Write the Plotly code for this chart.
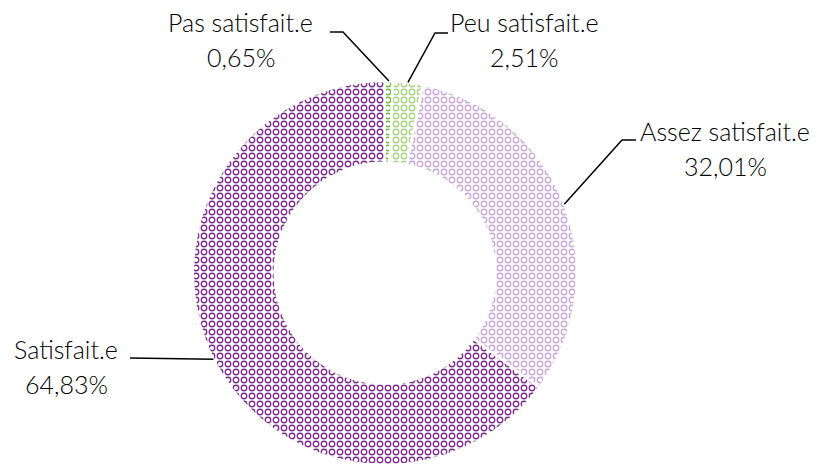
import math
import plotly.graph_objects as go

# ------------------------------ DONNÉES ------------------------------ #
categories = ["Pas satisfait.e", "Peu satisfait.e", "Assez satisfait.e", "Satisfait.e"]
valeurs = [0.65, 2.51, 32.01, 64.83]
etiquettes_valeurs = ["0,65%", "2,51%", "32,01%", "64,83%"]
couleurs = ["#6dbe3c", "#a8d47c", "#cba6d8", "#7a2a8a"]

# ------------------------------ MISE EN PAGE ------------------------------ #
OX, OY = 8, 8  # marge par défaut du <body> de la page html
W, H = 817 - OX, 468 - OY  # taille de la figure (sans débordement de la fenêtre)
CX, CY, R = 385 - OX, 273 - OY, 192  # centre et rayon du donut (px, repère figure)
TROU = 0.575

# coude des lignes de rappel, puis fin horizontale (px, repère de la page)
coudes = [(343, 32), (435, 33), (622, 140), (130, 358)]
fins = [(330, 32), (448, 33), (636, 140), (130, 358)]
# position du texte : (x centre, y ligne 1, y ligne 2)
pos_textes = [(241, 22, 57), (524, 22, 57), (725, 131, 166), (66, 349, 384)]

POLICE = "Lato, 'Noto Sans', sans-serif"


def px(x, y):
    # coordonnées page -> coordonnées papier de la figure
    return (x - OX) / W, 1 - (y - OY) / H


fig = go.Figure()
domaine = dict(x=[(CX - R) / W, (CX + R) / W], y=[1 - (CY + R) / H, 1 - (CY - R) / H])

# ronds pleins colorés, puis ronds blancs plus petits par-dessus -> cercles creux
fig.add_trace(go.Pie(
    labels=categories,
    values=valeurs,
    sort=False,
    direction="clockwise",
    rotation=0,
    hole=TROU,
    textinfo="none",
    hoverinfo="label+percent",
    marker=dict(
        colors=["white"] * 4,
        line=dict(color="white", width=2),
        pattern=dict(shape=".", fgcolor=couleurs, bgcolor="white",
                     size=8, solidity=0.57, fillmode="replace"),
    ),
    domain=domaine,
    showlegend=False,
))

fig.add_trace(go.Pie(
    labels=categories,
    values=valeurs,
    sort=False,
    direction="clockwise",
    rotation=0,
    hole=TROU,
    textinfo="none",
    hoverinfo="skip",
    marker=dict(
        colors=["rgba(0,0,0,0)"] * 4,
        line=dict(color="white", width=2),
        pattern=dict(shape=".", fgcolor="white", bgcolor="rgba(0,0,0,0)",
                     size=8, solidity=0.22, fillmode="replace"),
    ),
    domain=domaine,
    showlegend=False,
))

# lignes de rappel : point au milieu de chaque part sur le bord extérieur
total = sum(valeurs)
cumul = 0
for i, v in enumerate(valeurs):
    angle = 2 * math.pi * (cumul + v / 2) / total
    cumul += v
    bx = CX + OX + R * math.sin(angle)
    by = CY + OY - R * math.cos(angle)
    pts = [(bx, by), coudes[i], fins[i]]
    chemin = "M " + " L ".join(f"{px(x, y)[0]:.5f},{px(x, y)[1]:.5f}" for x, y in pts)
    fig.add_shape(type="path", path=chemin, xref="paper", yref="paper",
                  line=dict(color="black", width=1.5))

    tx, ty1, ty2 = pos_textes[i]
    for texte, ty in [(categories[i], ty1), (etiquettes_valeurs[i], ty2)]:
        ax, ay = px(tx, ty)
        fig.add_annotation(x=ax, y=ay, xref="paper", yref="paper", text=texte,
                           showarrow=False, xanchor="center", yanchor="middle",
                           font=dict(family=POLICE, size=25, color="black", weight=300))

fig.update_layout(
    width=W,
    height=H,
    margin=dict(l=0, r=0, t=0, b=0),
    paper_bgcolor="white",
    plot_bgcolor="white",
)

fig.write_html("out.html")
